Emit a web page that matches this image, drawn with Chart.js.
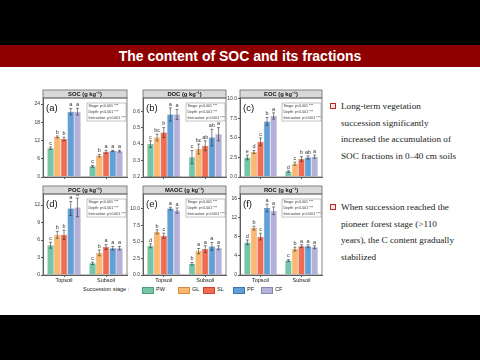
<!DOCTYPE html>
<html>
<head>
<meta charset="utf-8">
<script src="https://cdn.jsdelivr.net/npm/chart.js@4.4.1/dist/chart.umd.min.js"></script>
<style>
  html, body { margin: 0; padding: 0; }
  body { width: 480px; height: 360px; background: #000; position: relative; overflow: hidden; font-family: "Liberation Sans", Arial, sans-serif; }
  #slide { position: absolute; left: 0; top: 45px; width: 480px; height: 270px; background: #fff; }
  #title { position: absolute; left: 0; top: 45px; width: 480px; height: 22px; background: #8e0000; color: #fff; font-weight: bold; font-size: 14px; line-height: 22px; text-align: center; }
  canvas { position: absolute; }
  .leg { position: absolute; font-size: 5.5px; color: #222; line-height: 7px; }
  .sw { position: absolute; width: 10px; height: 5px; }
  .note { position: absolute; left: 341px; white-space: nowrap; font-family: "Liberation Serif", "Times New Roman", serif; font-size: 9.2px; line-height: 16.5px; color: #222; }
  .bullet { position: absolute; width: 4px; height: 4px; border: 1.5px solid #c0272d; background: #fde8e8; }
</style>
</head>
<body>
<div id="slide"></div>
<div id="title">The content of SOC and its fractions</div>
<div class="bullet" style="left:330px; top:103px;"></div>
<div class="note" style="top:98px;">Long-term vegetation<br>succession significantly<br>increased the accumulation of<br>SOC fractions in 0–40 cm soils</div>
<div class="bullet" style="left:330px; top:204px;"></div>
<div class="note" style="top:199px;">When succession reached the<br>pioneer forest stage (&gt;110<br>years), the C content gradually<br>stabilized</div>
<div id="legend"></div>
<script>
const categories = ['Topsoil', 'Subsoil'];
const stages = ['PW', 'GL', 'SL', 'PF', 'CF'];
const stageColors = ['#74c7a6', '#fbb870', '#f26c52', '#609fd8', '#b4b2da'];
const stageBorders = ['#4f9c7e', '#d68c40', '#c9452e', '#3c74ad', '#8a87b6'];

// SOC (g kg-1)
const socTop = [9.5, 13.2, 12.5, 21.5, 21.5];
const socSub = [3.5, 7.0, 8.3, 8.6, 8.5];
const socErrTop = [0.4, 0.3, 0.6, 1.0, 1.1];
const socErrSub = [0.3, 0.4, 0.5, 0.2, 0.3];
const socSigTop = ['c', 'b', 'b', 'a', 'a'];
const socSigSub = ['c', 'b', 'a', 'a', 'a'];

// DOC (g kg-1)
const docTop = [0.40, 0.44, 0.47, 0.58, 0.58];
const docSub = [0.32, 0.37, 0.39, 0.44, 0.46];
const docErrTop = [0.02, 0.02, 0.03, 0.04, 0.03];
const docErrSub = [0.04, 0.03, 0.03, 0.05, 0.04];
const docSigTop = ['c', 'bc', 'b', 'a', 'a'];
const docSigSub = ['c', 'bc', 'ab', 'ab', 'a'];

// EOC (g kg-1)
const eocTop = [2.5, 3.2, 4.5, 7.1, 7.8];
const eocSub = [0.7, 1.7, 2.3, 2.5, 2.6];
const eocErrTop = [0.3, 0.2, 0.5, 0.5, 0.4];
const eocErrSub = [0.1, 0.2, 0.3, 0.2, 0.2];
const eocSigTop = ['e', 'd', 'c', 'b', 'a'];
const eocSigSub = ['d', 'c', 'b', 'ab', 'a'];

// POC (g kg-1)
const pocTop = [5.1, 6.9, 6.9, 11.4, 11.6];
const pocSub = [2.0, 3.8, 4.8, 4.6, 4.6];
const pocErrTop = [0.5, 0.6, 0.8, 1.2, 1.6];
const pocErrSub = [0.2, 0.5, 0.4, 0.3, 0.3];
const pocSigTop = ['c', 'b', 'b', 'a', 'a'];
const pocSigSub = ['c', 'b', 'a', 'a', 'a'];

// MAOC (g kg-1)
const maocTop = [4.4, 6.5, 5.9, 10.0, 9.7];
const maocSub = [1.7, 3.6, 3.9, 4.3, 4.1];
const maocErrTop = [0.3, 0.3, 0.4, 0.2, 0.4];
const maocErrSub = [0.2, 0.4, 0.5, 0.6, 0.3];
const maocSigTop = ['d', 'b', 'c', 'a', 'a'];
const maocSigSub = ['b', 'a', 'a', 'a', 'a'];

// ROC (g kg-1)
const rocTop = [6.8, 9.8, 8.0, 14.0, 13.4];
const rocSub = [3.0, 5.4, 6.0, 6.0, 5.8];
const rocErrTop = [0.5, 0.4, 0.7, 0.8, 0.8];
const rocErrSub = [0.2, 0.4, 0.3, 0.3, 0.3];
const rocSigTop = ['d', 'b', 'c', 'a', 'a'];
const rocSigSub = ['c', 'b', 'a', 'a', 'a'];

const statsLines = ['Stage: p<0.001 ***', 'Depth: p<0.001 ***', 'Interaction: p<0.001 ***'];

/**
 * Extra drawing for one panel: strip header, frame, stats box, error bars, letters.
 */
function panelDecor(p) {
    return {
        id: 'panelDecor',
        afterDatasetsDraw(chart) {
            const { ctx, scales: { y } } = chart;
            const errs = [p.errTop, p.errSub];
            const sigs = [p.sigTop, p.sigSub];
            ctx.save();
            ctx.strokeStyle = '#333';
            ctx.lineWidth = 0.6;
            ctx.fillStyle = '#333';
            ctx.font = '5.5px "Liberation Sans", Arial';
            ctx.textAlign = 'center';
            ctx.textBaseline = 'bottom';
            chart.data.datasets.forEach((ds, i) => {
                chart.getDatasetMeta(i).data.forEach((bar, j) => {
                    const v = ds.data[j], e = errs[j][i];
                    const hi = y.getPixelForValue(v + e), lo = y.getPixelForValue(v - e);
                    ctx.beginPath();
                    ctx.moveTo(bar.x, lo); ctx.lineTo(bar.x, hi);
                    ctx.moveTo(bar.x - 1.5, hi); ctx.lineTo(bar.x + 1.5, hi);
                    ctx.moveTo(bar.x - 1.5, lo); ctx.lineTo(bar.x + 1.5, lo);
                    ctx.stroke();
                    ctx.fillText(sigs[j][i], bar.x, hi - 1);
                });
            });
            ctx.restore();
        },
        afterDraw(chart) {
            const { ctx, chartArea: a } = chart;
            ctx.save();
            // strip
            ctx.fillStyle = '#d9d9d9';
            ctx.fillRect(a.left, a.top - 8, a.right - a.left, 8);
            ctx.strokeStyle = '#666';
            ctx.lineWidth = 0.8;
            ctx.strokeRect(a.left, a.top - 8, a.right - a.left, 8);
            ctx.strokeRect(a.left, a.top, a.right - a.left, a.bottom - a.top);
            ctx.fillStyle = '#111';
            ctx.font = 'bold 5.8px "Liberation Sans", Arial';
            ctx.textAlign = 'center';
            ctx.textBaseline = 'middle';
            ctx.fillText(p.title, (a.left + a.right) / 2, a.top - 4);
            // panel letter
            ctx.font = '9.5px "Liberation Sans", Arial';
            ctx.textAlign = 'left';
            ctx.fillText(p.letter, a.left + 3, a.top + 10);
            // stats box
            const bx = a.right - 40, by = a.top + 5;
            ctx.fillStyle = '#fff';
            ctx.fillRect(bx, by, 39, 18);
            ctx.strokeStyle = '#888';
            ctx.lineWidth = 0.5;
            ctx.strokeRect(bx, by, 39, 18);
            ctx.fillStyle = '#333';
            ctx.font = '3.6px "Liberation Sans", Arial';
            statsLines.forEach((t, k) => ctx.fillText(t, bx + 1.5, by + 3.2 + k * 5.8));
            ctx.restore();
        }
    };
}

function buildPanel(p) {
    const xh = p.bottomRow ? 9 : 3;
    const left = p.x0 - 15, top = p.yTop - 9;
    const canvas = document.createElement('canvas');
    canvas.width = p.x1 - left + 2;
    canvas.height = p.yBot - top + xh;
    canvas.style.left = left + 'px';
    canvas.style.top = top + 'px';
    document.body.appendChild(canvas);

    return new Chart(canvas.getContext('2d'), {
        type: 'bar',
        data: {
            labels: categories,
            datasets: stages.map((s, i) => ({
                label: s,
                data: [p.top[i], p.sub[i]],
                backgroundColor: stageColors[i],
                borderColor: stageBorders[i],
                borderWidth: 0.5,
                categoryPercentage: 0.8,
                barPercentage: 0.95
            }))
        },
        options: {
            responsive: false,
            animation: false,
            devicePixelRatio: 1,
            layout: { padding: { left: 0, right: 2, top: 9, bottom: 0 } },
            plugins: { legend: { display: false }, tooltip: { enabled: false } },
            scales: {
                x: {
                    afterFit: s => { s.height = xh; },
                    grid: { display: true, drawOnChartArea: false, offset: false, tickLength: 2, color: '#555' },
                    border: { color: '#555' },
                    ticks: { display: p.bottomRow, padding: 0, color: '#222', font: { size: 5.5, family: 'Liberation Sans' } }
                },
                y: {
                    min: p.min,
                    max: p.max,
                    afterFit: s => { s.width = 15; },
                    grid: { display: true, drawOnChartArea: false, tickLength: 2, color: '#555' },
                    border: { color: '#555' },
                    ticks: {
                        stepSize: p.step,
                        includeBounds: false,
                        padding: 1,
                        color: '#333',
                        font: { size: 5, family: 'Liberation Sans' },
                        callback: v => v.toFixed(p.digits)
                    }
                }
            }
        },
        plugins: [panelDecor(p)]
    });
}

const panels = [
    { title: 'SOC (g kg⁻¹)', letter: '(a)', top: socTop, sub: socSub, errTop: socErrTop, errSub: socErrSub, sigTop: socSigTop, sigSub: socSigSub,
      min: 0, max: 26, step: 6, digits: 0, x0: 43, x1: 127, yTop: 98, yBot: 178, bottomRow: false },
    { title: 'DOC (g kg⁻¹)', letter: '(b)', top: docTop, sub: docSub, errTop: docErrTop, errSub: docErrSub, sigTop: docSigTop, sigSub: docSigSub,
      min: 0.2, max: 0.68, step: 0.1, digits: 1, x0: 143, x1: 226, yTop: 98, yBot: 178, bottomRow: false },
    { title: 'EOC (g kg⁻¹)', letter: '(c)', top: eocTop, sub: eocSub, errTop: eocErrTop, errSub: eocErrSub, sigTop: eocSigTop, sigSub: eocSigSub,
      min: 0, max: 10.1, step: 2.5, digits: 1, x0: 240, x1: 322, yTop: 98, yBot: 178, bottomRow: false },
    { title: 'POC (g kg⁻¹)', letter: '(d)', top: pocTop, sub: pocSub, errTop: pocErrTop, errSub: pocErrSub, sigTop: pocSigTop, sigSub: pocSigSub,
      min: 0, max: 13.9, step: 3, digits: 0, x0: 43, x1: 127, yTop: 194, yBot: 275, bottomRow: true },
    { title: 'MAOC (g kg⁻¹)', letter: '(e)', top: maocTop, sub: maocSub, errTop: maocErrTop, errSub: maocErrSub, sigTop: maocSigTop, sigSub: maocSigSub,
      min: 0, max: 12.2, step: 2.5, digits: 1, x0: 143, x1: 226, yTop: 194, yBot: 275, bottomRow: true },
    { title: 'ROC (g kg⁻¹)', letter: '(f)', top: rocTop, sub: rocSub, errTop: rocErrTop, errSub: rocErrSub, sigTop: rocSigTop, sigSub: rocSigSub,
      min: 0, max: 16.9, step: 4, digits: 0, x0: 240, x1: 322, yTop: 194, yBot: 275, bottomRow: true }
];

panels.forEach(buildPanel);

// legend
const legend = document.getElementById('legend');
const swatchLeft = [142, 178, 203, 233, 261];
legend.innerHTML = '<div class="leg" style="left:83px; top:286px;">Succession stage :</div>' +
    stages.map((s, i) =>
        `<div class="sw" style="left:${swatchLeft[i]}px; top:287px; background:${stageColors[i]}; border:0.5px solid ${stageBorders[i]};"></div>` +
        `<div class="leg" style="left:${swatchLeft[i] + 14}px; top:286px;">${s}</div>`
    ).join('');
</script>
</body>
</html>
